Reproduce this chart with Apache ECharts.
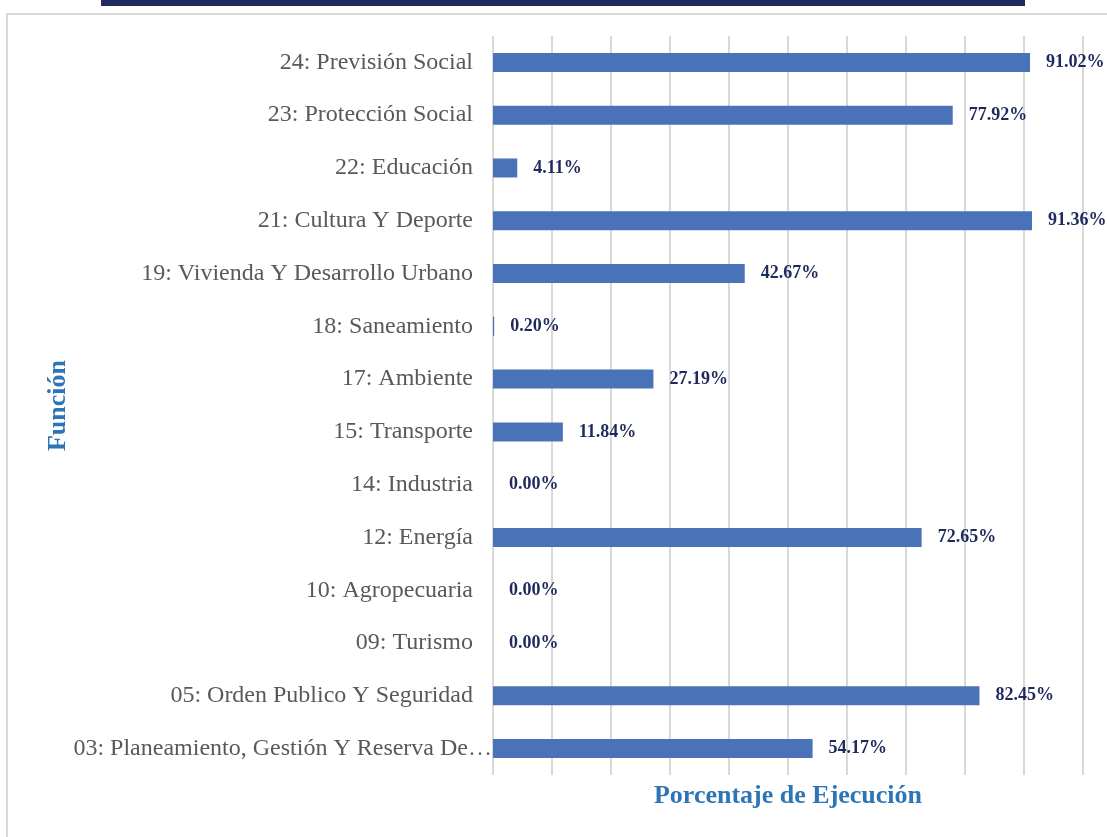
<!DOCTYPE html>
<html>
<head>
<meta charset="utf-8">
<script src="https://cdn.jsdelivr.net/npm/echarts@6/dist/echarts.min.js"></script>
<style>
  html, body { margin: 0; padding: 0; background: #fff; }
  #chart { width: 1107px; height: 837px; }
</style>
</head>
<body>
<div id="chart"></div>
<script>
// functions, top to bottom as shown
const categories = [
  '24: Previsión Social',
  '23: Protección Social',
  '22: Educación',
  '21: Cultura Y Deporte',
  '19: Vivienda Y Desarrollo Urbano',
  '18: Saneamiento',
  '17: Ambiente',
  '15: Transporte',
  '14: Industria',
  '12: Energía',
  '10: Agropecuaria',
  '09: Turismo',
  '05: Orden Publico Y Seguridad',
  '03: Planeamiento, Gestión Y Reserva De…'
];
// execution percentage
const execPct = [91.02, 77.92, 4.11, 91.36, 42.67, 0.20, 27.19, 11.84, 0.00, 72.65, 0.00, 0.00, 82.45, 54.17];

const chart = echarts.init(document.getElementById('chart'));

// the truncated last label sits closer to the bars, like the original
const catData = categories.map((c, i) =>
  i === categories.length - 1 ? { value: c, textStyle: { padding: [0, -19, 0, 0] } } : c
);

const option = {
  animation: false,
  graphic: [
    {
      type: 'rect',
      shape: { x: 7, y: 14, width: 1300, height: 1000 },
      style: { fill: 'none', stroke: '#d9d9d9', lineWidth: 2 }
    },
    {
      type: 'rect',
      shape: { x: 101, y: 0, width: 924, height: 6 },
      style: { fill: '#232a5e' }
    }
  ],
  grid: { left: 493, right: 24, top: 36, bottom: 62 },
  xAxis: {
    type: 'value',
    min: 0,
    max: 100,
    interval: 10,
    name: 'Porcentaje de Ejecución',
    nameLocation: 'middle',
    nameGap: 8,
    nameTextStyle: {
      fontFamily: 'Liberation Serif',
      fontWeight: 'bold',
      fontSize: 26,
      color: '#2e75b6'
    },
    axisLabel: { show: false },
    axisLine: { show: false },
    axisTick: { show: false },
    splitLine: { lineStyle: { color: '#d9d9d9', width: 2 } }
  },
  yAxis: {
    type: 'category',
    data: catData,
    inverse: true,
    name: 'Función',
    nameLocation: 'middle',
    nameGap: 422,
    nameMoveOverlap: false,
    nameTextStyle: {
      fontFamily: 'Liberation Serif',
      fontWeight: 'bold',
      fontSize: 26,
      color: '#2e75b6'
    },
    axisLine: { show: false },
    axisTick: { show: false },
    axisLabel: {
      margin: 20,
      fontFamily: 'Liberation Serif',
      fontSize: 24,
      color: '#595959'
    }
  },
  series: [{
    type: 'bar',
    data: execPct,
    barWidth: 19,
    itemStyle: { color: '#4a72b8' },
    label: {
      show: true,
      position: 'right',
      distance: 16,
      formatter: p => p.value.toFixed(2) + '%',
      fontFamily: 'Liberation Serif',
      fontWeight: 'bold',
      fontSize: 18,
      color: '#1f2a5c'
    }
  }]
};

chart.setOption(option);
</script>
</body>
</html>
